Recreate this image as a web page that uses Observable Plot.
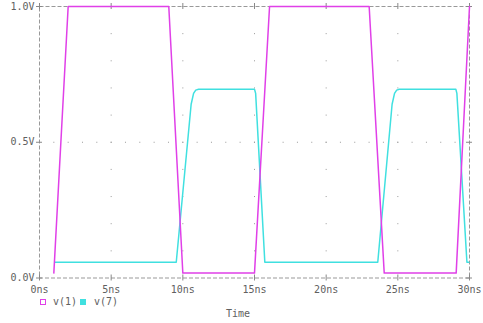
<!DOCTYPE html>
<html><head><meta charset="utf-8">
<script src="https://cdn.jsdelivr.net/npm/d3@7"></script>
<script src="https://cdn.jsdelivr.net/npm/@observablehq/plot@0.6"></script>
<style>
body{margin:0;background:#fff;}
#wrap{position:relative;width:483px;height:323px;font-family:"DejaVu Sans Mono",monospace;font-size:10px;color:#606060;overflow:hidden;}
#chart{position:absolute;left:0;top:0;}
.lg{position:absolute;line-height:12px;top:296px;white-space:nowrap;}
.sw{position:absolute;box-sizing:border-box;width:6px;height:6px;top:299px;}
#xlabel{position:absolute;left:226px;top:308px;line-height:11px;}
</style></head><body>
<div id="wrap">
<div id="chart"></div>
<div class="sw" style="left:40px;border:1px solid #e040e8;"></div>
<div class="lg" style="left:53px;">v(1)</div>
<div class="sw" style="left:80px;background:#40e0e0;"></div>
<div class="lg" style="left:94px;">v(7)</div>
<div id="xlabel">Time</div>
</div>
<script>
// time axis ticks (ns) and voltage ticks (V)
const xTicks = [0, 5, 10, 15, 20, 25, 30];
const gridTimes = [5, 10, 15, 20, 25];
const yTicks = [0, 0.5, 1.0];

// v(1) trace
const timeV1 = [1.0, 2.0, 9.02, 10.0, 15.0, 16.05, 23.0, 24.05, 29.07, 30.0];
const valV1  = [0.018, 1.0, 1.0, 0.018, 0.018, 1.0, 1.0, 0.018, 0.018, 1.0];

// v(7) trace
const timeV7 = [1.07, 9.54, 10.58, 10.75, 10.9, 11.1, 15.0, 15.08, 15.72, 23.6, 24.6, 24.77, 24.92, 25.1, 29.05, 29.12, 29.82, 29.95];
const valV7  = [0.058, 0.058, 0.64, 0.68, 0.692, 0.695, 0.695, 0.68, 0.058, 0.058, 0.64, 0.68, 0.692, 0.695, 0.695, 0.68, 0.058, 0.058];

const d1 = timeV1.map((t, i) => ({t, v: valV1[i]}));
const d7 = timeV7.map((t, i) => ({t, v: valV7[i]}));

const chart = Plot.plot({
  width: 483, height: 296,
  marginLeft: 39, marginRight: 14, marginTop: 6, marginBottom: 18.5,
  x: {domain: [0, 30]},
  y: {domain: [0, 1]},
  style: {fontFamily: "DejaVu Sans Mono, monospace", fontSize: "10px", color: "#606060", background: "white"},
  marks: [
    Plot.ruleX(gridTimes, {x: d => d, stroke: "#999", strokeDasharray: "1,26.15"}),
    Plot.ruleY([0.5], {y: d => d, stroke: "#999", strokeDasharray: "1,13.33"}),
    Plot.frame({stroke: "#999", strokeDasharray: "4,2"}),
    Plot.ruleX(xTicks, {x: d => d, y1: 0, y2: 0, insetTop: 3, insetBottom: 3, stroke: "#888"}),
    Plot.ruleX(xTicks, {x: d => d, y1: 1, y2: 1, insetTop: 3, insetBottom: 3, stroke: "#888"}),
    Plot.ruleY(yTicks, {y: d => d, x1: 0, x2: 0, insetLeft: 3, insetRight: 3, stroke: "#888"}),
    Plot.ruleY(yTicks, {y: d => d, x1: 30, x2: 30, insetLeft: 3, insetRight: 3, stroke: "#888"}),
    Plot.axisX({ticks: xTicks, tickFormat: d => d + "ns", tickSize: 0, tickPadding: 8, label: null}),
    Plot.axisY({ticks: yTicks, tickFormat: d => d.toFixed(1) + "V", tickSize: 0, tickPadding: 5, label: null}),
    Plot.line(d7, {x: "t", y: "v", stroke: "#40e0e0", strokeWidth: 1.5}),
    Plot.line(d1, {x: "t", y: "v", stroke: "#e040e8", strokeWidth: 1.5})
  ]
});
document.getElementById("chart").append(chart);
</script>
</body></html>
